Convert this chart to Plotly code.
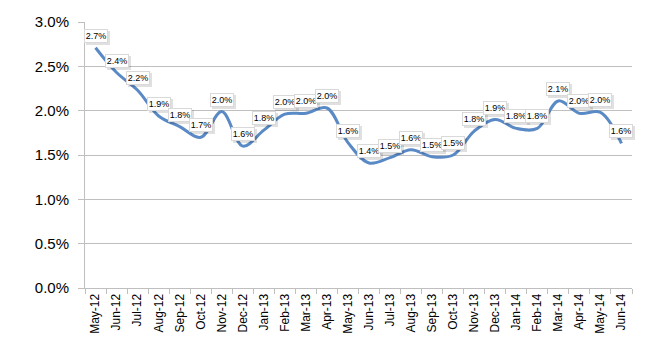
import plotly.graph_objects as go

months = ["May-12", "Jun-12", "Jul-12", "Aug-12", "Sep-12", "Oct-12", "Nov-12", "Dec-12",
          "Jan-13", "Feb-13", "Mar-13", "Apr-13", "May-13", "Jun-13", "Jul-13", "Aug-13",
          "Sep-13", "Oct-13", "Nov-13", "Dec-13", "Jan-14", "Feb-14", "Mar-14", "Apr-14",
          "May-14", "Jun-14"]
values = [2.71, 2.43, 2.23, 1.94, 1.82, 1.70, 1.99, 1.60,
          1.78, 1.96, 1.97, 2.03, 1.64, 1.41, 1.47, 1.56,
          1.48, 1.50, 1.77, 1.90, 1.80, 1.80, 2.11, 1.97,
          1.98, 1.63]
y_ticks = [0, 0.5, 1.0, 1.5, 2.0, 2.5, 3.0]

FONT = "Liberation Sans"
fig = go.Figure()
fig.add_trace(go.Scatter(
    x=months, y=values, mode="lines",
    line=dict(color="#5A8AC6", width=3, shape="spline", smoothing=1.0),
    hoverinfo="skip", showlegend=False,
))

annotations = []
for m, v in zip(months, values):
    txt = f"{v:.1f}%"
    # soft shadow box (no text)
    annotations.append(dict(
        x=m, y=v, xref="x", yref="y", text=" ", showarrow=False,
        width=22, height=12, borderpad=1, borderwidth=0,
        bgcolor="rgba(0,0,0,0.12)",
        xshift=2, yshift=10,
    ))
    annotations.append(dict(
        x=m, y=v, xref="x", yref="y", text=txt, showarrow=False,
        width=22, height=12,
        font=dict(family=FONT, size=9, color="#000000"),
        bgcolor="#FFFFFF", bordercolor="#D9D9D9", borderwidth=1, borderpad=0,
        xshift=0, yshift=12,
    ))

fig.update_layout(
    width=650, height=350,
    margin=dict(l=85, r=18, t=22, b=62),
    paper_bgcolor="white", plot_bgcolor="white",
    annotations=annotations,
    xaxis=dict(
        type="category", tickangle=-90, tickson="boundaries",
        ticks="outside", ticklen=5, tickcolor="#BFBFBF",
        showline=True, linecolor="#BFBFBF", linewidth=1,
        showgrid=False, zeroline=False,
        tickfont=dict(family=FONT, size=12, color="#000000"),
        range=[-0.5, len(months) - 0.5],
    ),
    yaxis=dict(
        range=[0, 3.0], tickvals=y_ticks,
        ticktext=[f"{t:.1f}%" for t in y_ticks],
        ticks="outside", ticklen=6, tickcolor="#BFBFBF",
        showline=True, linecolor="#BFBFBF", linewidth=1,
        showgrid=True, gridcolor="#BFBFBF", gridwidth=1,
        zeroline=False,
        tickfont=dict(family=FONT, size=15, color="#000000"),
        ticklabelstandoff=6,
    ),
)

fig.write_html("out.html")
